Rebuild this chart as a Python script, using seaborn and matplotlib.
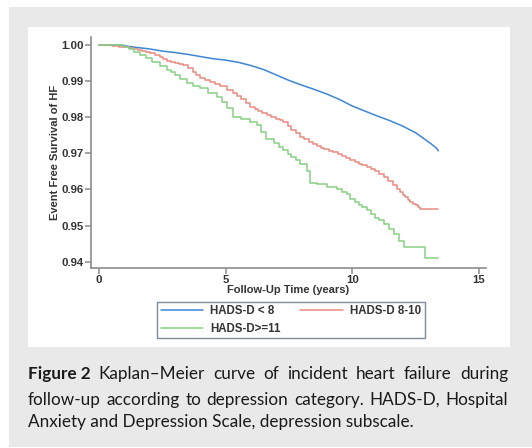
import matplotlib
matplotlib.use("Agg")
import matplotlib.pyplot as plt
from matplotlib.patches import Rectangle
from matplotlib import font_manager
import seaborn as sns
import pandas as pd

# ---- data ----
blue_t = [0, 0.8, 1.5, 2.0, 2.5, 3.0, 3.5, 4.0, 4.5, 5.0, 5.5, 6.0, 6.5, 7.0, 7.5,
          8.0, 8.5, 9.0, 9.5, 10.0, 10.5, 11.0, 11.5, 12.0, 12.5, 12.8, 13.1, 13.3, 13.4]
blue_v = [1.0, 0.99995, 0.9993, 0.9989, 0.9983, 0.9979, 0.9974, 0.9968, 0.9962, 0.9958,
          0.9952, 0.9943, 0.9932, 0.9917, 0.9902, 0.9889, 0.9877, 0.9864, 0.9849, 0.9831,
          0.9817, 0.9803, 0.9790, 0.9775, 0.9757, 0.9742, 0.9727, 0.9716, 0.9707]

red_t = [0, 0.3, 0.5, 0.8, 1.0, 1.2, 1.36, 1.55, 1.7, 1.85, 2.02, 2.2, 2.4, 2.55, 2.67,
         2.85, 3.0, 3.15, 3.33, 3.5, 3.7, 3.85, 3.99, 4.2, 4.4, 4.6, 4.8, 5.05, 5.31,
         5.45, 5.6, 5.8, 5.97, 6.15, 6.3, 6.45, 6.63, 6.8, 7.0, 7.15, 7.28, 7.45, 7.6,
         7.8, 7.95, 8.1, 8.3, 8.45, 8.6, 8.75, 8.9, 9.1, 9.26, 9.45, 9.6, 9.75, 9.92,
         10.1, 10.25, 10.4, 10.58, 10.75, 10.9, 11.05, 11.24, 11.4, 11.6, 11.75, 11.9,
         12.0, 12.1, 12.2, 12.3, 12.4, 12.5, 12.6, 12.69, 13.39]
red_v = [1.0, 0.9999, 0.9997, 0.9995, 0.9993, 0.9991, 0.9989, 0.9986, 0.9983, 0.9980,
         0.9977, 0.9972, 0.9967, 0.9961, 0.9956, 0.9953, 0.9950, 0.9947, 0.9944, 0.9935,
         0.9925, 0.9916, 0.9908, 0.9903, 0.9898, 0.9891, 0.9885, 0.9876, 0.9866, 0.9858,
         0.9850, 0.9838, 0.9829, 0.9823, 0.9818, 0.9812, 0.9806, 0.9800, 0.9795, 0.9791,
         0.9787, 0.9776, 0.9765, 0.9755, 0.9745, 0.9739, 0.9732, 0.9726, 0.9720, 0.9716,
         0.9711, 0.9707, 0.9704, 0.9698, 0.9692, 0.9687, 0.9681, 0.9676, 0.9671, 0.9667,
         0.9662, 0.9656, 0.9650, 0.9642, 0.9634, 0.9624, 0.9612, 0.9602, 0.9592, 0.9585,
         0.9578, 0.9571, 0.9565, 0.9560, 0.9556, 0.9551, 0.9546, 0.9546]

green_t = [0, 0.83, 1.0, 1.2, 1.4, 1.62, 1.85, 2.1, 2.4, 2.67, 2.85, 3.0, 3.2, 3.46, 3.7,
           4.0, 4.3, 4.65, 4.85, 5.05, 5.3, 5.6, 5.97, 6.23, 6.4, 6.6, 6.9, 7.1, 7.28,
           7.45, 7.6, 7.8, 7.95, 8.2, 8.34, 8.6, 9.0, 9.4, 9.6, 9.79, 9.92, 10.1, 10.25,
           10.4, 10.58, 10.75, 10.9, 11.05, 11.24, 11.45, 11.63, 11.85, 12.03, 12.88, 13.39]
green_v = [1.0, 0.9999, 0.9994, 0.9988, 0.9980, 0.9972, 0.9963, 0.9953, 0.9943, 0.9931,
           0.9924, 0.9916, 0.9906, 0.9894, 0.9887, 0.9880, 0.9868, 0.9856, 0.9843, 0.9826,
           0.9801, 0.9796, 0.9787, 0.9778, 0.9760, 0.9739, 0.9728, 0.9718, 0.9708, 0.9699,
           0.9690, 0.9681, 0.9671, 0.9650, 0.9618, 0.9614, 0.9608, 0.9602, 0.9594, 0.9586,
           0.9574, 0.9566, 0.9557, 0.9550, 0.9542, 0.9532, 0.9522, 0.9514, 0.9505, 0.9490,
           0.9477, 0.9458, 0.9440, 0.9410, 0.9410]

labels = ["HADS-D < 8", "HADS-D 8-10", "HADS-D>=11"]
colors = ["#3d86d6", "#e88a80", "#88d084"]
x_ticks = [0, 5, 10, 15]
y_ticks = [0.94, 0.95, 0.96, 0.97, 0.98, 0.99, 1.00]
x_label = "Follow-Up Time (years)"
y_label = "Event Free Survival of HF"
caption_lines = [
    ("Figure 2", "Kaplan\u2013Meier curve of incident heart failure during"),
    ("", "follow-up according to depression category. HADS-D, Hospital"),
    ("", "Anxiety and Depression Scale, depression subscale."),
]

df_blue = pd.DataFrame({"t": blue_t, "s": blue_v, "g": labels[0]})
df_red = pd.DataFrame({"t": red_t, "s": red_v, "g": labels[1]})
df_green = pd.DataFrame({"t": green_t, "s": green_v, "g": labels[2]})

sns.set_style("ticks")
plt.rcParams["font.family"] = ["Liberation Sans", "DejaVu Sans"]

names = {f.name for f in font_manager.fontManager.ttflist}
narrow = "Liberation Sans Narrow" if "Liberation Sans Narrow" in names else "Liberation Sans"

W, H = 532, 448
fig = plt.figure(figsize=(W / 100, H / 100), dpi=100)
fig.patch.set_facecolor("white")

def fr(x0, y0, x1, y1, color):
    r = Rectangle((x0 / W, 1 - y1 / H), (x1 - x0) / W, (y1 - y0) / H,
                  transform=fig.transFigure, facecolor=color, edgecolor="none", zorder=-5)
    fig.patches.append(r)

fr(9, 7, 532, 447, "#e9e9e9")
fr(28, 27, 510, 347, "#ffffff")

ax = fig.add_axes([91 / W, 1 - 268 / H, (486 - 91) / W, (268 - 37) / H])
ax.set_facecolor("white")

lw = 1.1
sns.lineplot(data=df_blue, x="t", y="s", color=colors[0], lw=lw, ax=ax,
             label=labels[0], sort=False)
sns.lineplot(data=df_red, x="t", y="s", color=colors[1], lw=lw, ax=ax,
             label=labels[1], sort=False, drawstyle="steps-post")
sns.lineplot(data=df_green, x="t", y="s", color=colors[2], lw=lw, ax=ax,
             label=labels[2], sort=False, drawstyle="steps-post")

ax.set_xlim(-0.31, 15.28)
ax.set_ylim(0.93825, 1.0022)
ax.set_xticks(x_ticks)
ax.set_yticks(y_ticks)
ax.set_yticklabels([f"{v:.2f}" for v in y_ticks])
for s in ["top", "right"]:
    ax.spines[s].set_visible(False)
for s in ["left", "bottom"]:
    ax.spines[s].set_color("#8c8c8c")
    ax.spines[s].set_linewidth(1.2)
ax.tick_params(axis="both", colors="#8c8c8c", length=4, width=1.1, pad=1.0,
               labelcolor="#333333")
for lab in ax.get_xticklabels() + ax.get_yticklabels():
    lab.set_fontweight("bold")
    lab.set_family([narrow, "DejaVu Sans"])
    lab.set_fontsize(8.2)
ax.set_xlabel(x_label, fontsize=8, fontweight="bold", color="#333333", labelpad=0)
ax.set_ylabel(y_label, fontsize=8, fontweight="bold", color="#333333", labelpad=1.0)

handles, labs = ax.get_legend_handles_labels()
ax.get_legend().remove()
order = [0, 2, 1]
leg = fig.legend([handles[i] for i in order], [labs[i] for i in order],
                 loc="center", bbox_to_anchor=(291 / W, 1 - 320 / H), ncol=2,
                 frameon=True, fancybox=False, fontsize=8.3, handlelength=3.7,
                 columnspacing=1.7, borderpad=0.3, labelspacing=0.5,
                 handletextpad=0.6, borderaxespad=0)
leg.get_frame().set_edgecolor("#5f6f80")
leg.get_frame().set_linewidth(1.0)
for t in leg.get_texts():
    t.set_fontweight("bold")
    t.set_color("#333333")

# caption, justified between x=28 and x=508 (last line set naturally)
fig.canvas.draw()
renderer = fig.canvas.get_renderer()
cap_font = ["Lato", "DejaVu Sans"]
cap_size = 12.3
left_px, right_px = 28, 508
line_y = [379, 405, 427]
for li, (bold, rest) in enumerate(caption_lines):
    y = 1 - line_y[li] / H
    last = li == len(caption_lines) - 1
    if last:
        fig.text(left_px / W, y, rest, fontsize=cap_size, family=cap_font,
                 color="#1a1a1a", va="baseline", ha="left")
        continue
    words = []
    if bold:
        words.append((bold, "bold"))
    words += [(w, "normal") for w in rest.split(" ")]
    texts = []
    for w, wt in words:
        t = fig.text(0, y, w, fontsize=cap_size, family=cap_font,
                     fontweight=wt, color="#1a1a1a", va="baseline", ha="left")
        texts.append(t)
    widths = [t.get_window_extent(renderer).width for t in texts]
    gap = max((right_px - left_px - sum(widths)) / (len(words) - 1), 2.5)
    x = left_px
    for t, w in zip(texts, widths):
        t.set_x(x / W)
        x += w + gap

fig.savefig("out.png", dpi=100, facecolor="white")
